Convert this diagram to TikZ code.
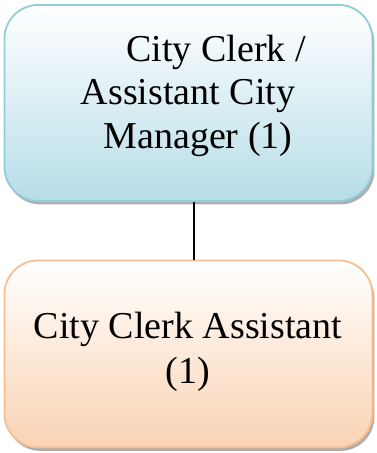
\documentclass[tikz,border=0pt]{standalone}
\usepackage{fontspec}
\setmainfont{Liberation Serif}
\usetikzlibrary{shadows}
\definecolor{aquaB}{HTML}{93CDDC}
\definecolor{aquaF}{HTML}{B7DDE8}
\definecolor{peachB}{HTML}{F9BE8F}
\definecolor{peachF}{HTML}{FAD3B3}
\tikzset{
  orgbox/.style={rounded corners=34pt, line width=1.8pt,
    drop shadow={shadow xshift=2pt, shadow yshift=-3.5pt, fill=black!45, opacity=0.7}},
  blue box/.style={orgbox, draw=aquaB, top color=white, bottom color=aquaF},
  peach box/.style={orgbox, draw=peachB, top color=white, bottom color=peachF},
  txt/.style={font=\fontsize{38pt}{44pt}\selectfont, anchor=base, inner sep=0pt},
  link/.style={draw=black, line width=1.8pt}
}
\begin{document}
\begin{tikzpicture}[x=1pt,y=-1pt]
\useasboundingbox (0,0) rectangle (376,453);
\node[blue box, minimum width=368pt, minimum height=196pt, anchor=north west] (top) at (3.5,4) {};
\node[peach box, minimum width=368pt, minimum height=187pt, anchor=north west] (bot) at (3.5,259.5) {};
\draw[link] ([xshift=5.5pt]top.south) -- ([xshift=5.5pt]bot.north);
\node[txt] (t1) at (216,61) {City Clerk /};
\node[txt] (t2) at (188,104) {Assistant City};
\node[txt] (t3) at (198,148) {Manager (1)};
\node[txt] (b1) at (188,338) {City Clerk Assistant};
\node[txt] (b2) at (188,383) {(1)};
\end{tikzpicture}
\end{document}
